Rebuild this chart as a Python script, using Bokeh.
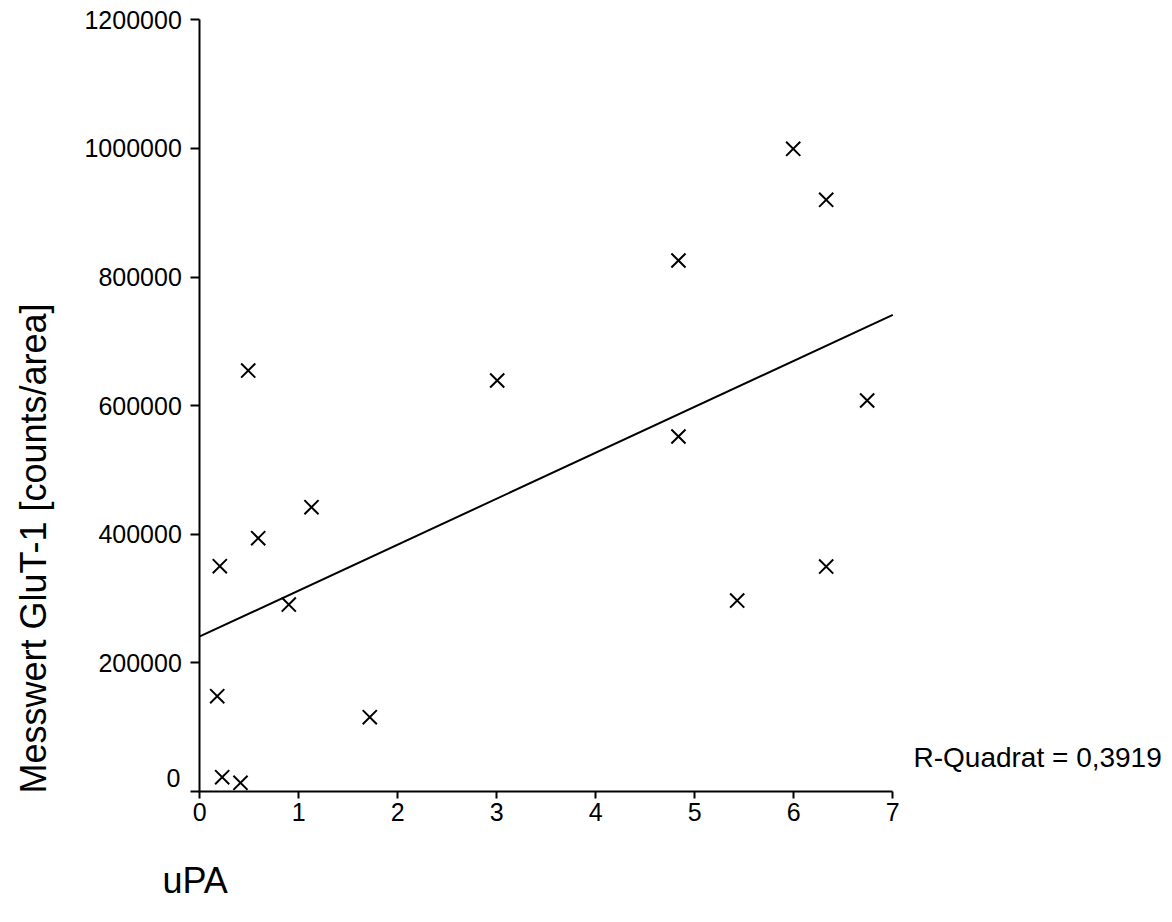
import numpy as np
from bokeh.plotting import figure
from bokeh.models import Range1d, FixedTicker, NumeralTickFormatter, Label, LinearAxis
from bokeh.embed import file_html
from bokeh.resources import INLINE

# Data
upa = [0.489, 3.004, 1.128, 0.590, 0.202, 0.899, 0.176, 1.717, 0.226, 0.411,
       5.994, 6.327, 4.835, 6.741, 4.835, 6.327, 5.428]
glut1 = [654700, 639200, 442100, 393900, 350400, 290800, 148200, 115600, 22200, 13500,
         999500, 920200, 825800, 608100, 552100, 349900, 297000]
x_ticks = [0, 1, 2, 3, 4, 5, 6, 7]
y_ticks = [0, 200000, 400000, 600000, 800000, 1000000, 1200000]
r_text = "R-Quadrat = 0,3919"
x_title = "uPA"
y_title = "Messwert GluT-1  [counts/area]"

FONT = "Liberation Sans"
W, H = 1164, 906
PX_X = 99.0          # pixels per uPA unit
PX_Y = 1.0 / 1555.2  # pixels per count
X0, Y0 = 199.3, 791.0  # canvas position of the origin

p = figure(output_backend="svg", toolbar_location=None, width=W, height=H,
           x_axis_location=None, y_axis_location=None,
           x_range=Range1d(-X0 / PX_X, (W - X0) / PX_X),
           y_range=Range1d(-(H - Y0) / PX_Y, Y0 / PX_Y),
           min_border=0, min_border_left=0, min_border_right=0,
           min_border_top=0, min_border_bottom=0,
           background_fill_color="white", border_fill_color="white")
p.outline_line_color = None
p.grid.visible = False

xaxis = LinearAxis(fixed_location=0, bounds=(x_ticks[0], x_ticks[-1]),
                   ticker=FixedTicker(ticks=x_ticks))
yaxis = LinearAxis(fixed_location=0, bounds=(y_ticks[0], y_ticks[-1]),
                   ticker=FixedTicker(ticks=y_ticks),
                   formatter=NumeralTickFormatter(format="0"))
for ax in (xaxis, yaxis):
    ax.axis_line_width = 2
    ax.axis_line_color = "black"
    ax.major_tick_line_width = 2
    ax.major_tick_line_color = "black"
    ax.major_tick_in = 0
    ax.minor_tick_line_color = None
    ax.major_label_text_font = FONT
    ax.major_label_text_font_size = "25px"
    ax.major_label_text_color = "black"
xaxis.major_tick_out = 7
xaxis.major_label_standoff = 4
yaxis.major_tick_out = 9
yaxis.major_label_standoff = 9
yaxis.major_label_overrides = {0: ""}
p.add_layout(xaxis, "below")
p.add_layout(yaxis, "left")

# regression line fitted from the data
slope, intercept = np.polyfit(upa, glut1, 1)
xs = [x_ticks[0], x_ticks[-1]]
p.line(xs, [intercept + slope * v for v in xs], line_color="black", line_width=2)

p.scatter(upa, glut1, marker="x", size=20, line_color="black", line_width=2)

def lab(px, py, text, size, **kw):
    p.add_layout(Label(x=(px - X0) / PX_X, y=(Y0 - py) / PX_Y, text=text,
                       text_font=FONT, text_font_size=size, text_color="black",
                       text_baseline="middle", **kw))

# shifted "0" tick label as in the original
lab(180, 777, "0", "25px", text_align="right")
lab(913, 757, r_text, "28px", text_align="left")
lab(162, 880, x_title, "36px", text_align="left")
lab(33, 543, y_title, "36px", text_align="center", angle=np.pi / 2)

open("out.html", "w").write(file_html(p, INLINE))
